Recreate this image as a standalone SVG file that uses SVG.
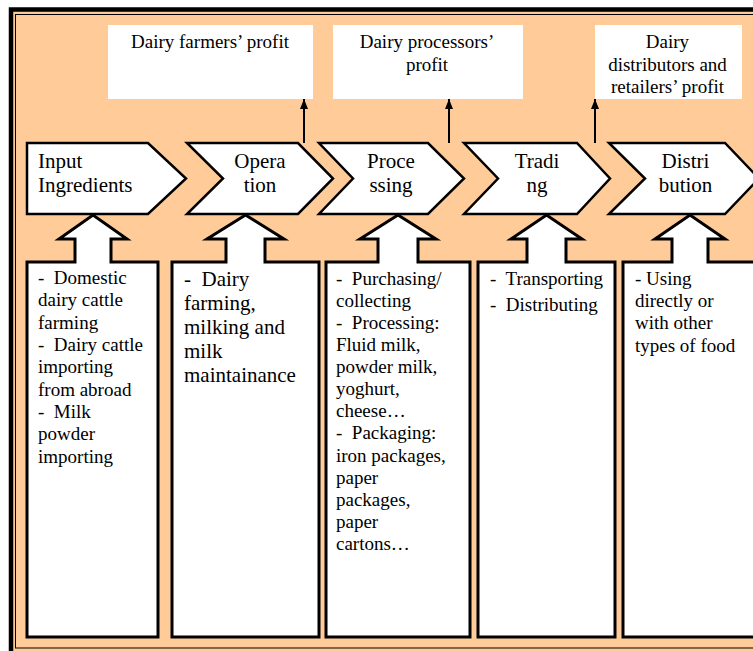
<svg xmlns="http://www.w3.org/2000/svg" width="753" height="651" viewBox="0 0 753 651" font-family="'Liberation Serif', 'Times New Roman', serif">
<defs>
<style>
.chev{fill:#fff;stroke:#000;stroke-width:2.5;stroke-linejoin:miter}
.box{fill:#fff;stroke:#000;stroke-width:3;stroke-linejoin:miter}
text{font-family:'Liberation Serif','Times New Roman',serif;fill:#000}
.c21{font-size:21px}
.b19{font-size:19px}
.mid{text-anchor:middle}
.conn{stroke:#000;stroke-width:2;fill:none}
</style>
<marker id="ah" viewBox="0 0 10 8" refX="10" refY="4" markerWidth="10" markerHeight="8" markerUnits="userSpaceOnUse" orient="auto">
<path d="M0,0 L10,4 L0,8 Z" fill="#000"/>
</marker>
</defs>
<rect x="0" y="0" width="753" height="651" fill="#fff"/>
<rect x="11" y="9.5" width="770" height="660" fill="#FFCC99" stroke="#000" stroke-width="4.5"/>
<rect x="15.5" y="14.5" width="760" height="633.5" fill="none" stroke="#000" stroke-width="1"/>

<g id="profit1">
<rect x="108" y="25" width="205" height="74" fill="#fff"/>
<text class="t b19 mid" x="210" y="48">Dairy farmers’ profit</text>
</g>
<g id="profit2">
<rect x="333" y="25" width="190" height="74" fill="#fff"/>
<text class="t b19 mid" x="427" y="48">Dairy processors’</text>
<text class="t b19 mid" x="427" y="71">profit</text>
</g>
<g id="profit3">
<rect x="595" y="25" width="147" height="74" fill="#fff"/>
<text class="t b19 mid" x="667.5" y="48">Dairy</text>
<text class="t b19 mid" x="667.5" y="71">distributors and</text>
<text class="t b19 mid" x="667.5" y="93">retailers’ profit</text>
</g>

<g id="connectors">
<line class="conn" x1="304" y1="143" x2="304" y2="99" marker-end="url(#ah)"/>
<line class="conn" x1="449" y1="143" x2="449" y2="99" marker-end="url(#ah)"/>
<line class="conn" x1="595" y1="143" x2="595" y2="99" marker-end="url(#ah)"/>
</g>

<g id="input">
<polygon class="chev" points="27,143 148,143 186,178.5 148,214 27,214"/>
<text class="t c21" x="38" y="168">Input</text>
<text class="t c21" x="38" y="192">Ingredients</text>
</g>
<g id="operation">
<polygon class="chev" points="187,143 298,143 333,178.5 298,214 187,214 223,178.5"/>
<text class="t c21 mid" x="260" y="168">Opera</text>
<text class="t c21 mid" x="260" y="192">tion</text>
</g>
<g id="processing">
<polygon class="chev" points="319,143 428,143 464,178.5 428,214 319,214 353,178.5"/>
<text class="t c21 mid" x="391" y="168">Proce</text>
<text class="t c21 mid" x="391" y="192">ssing</text>
</g>
<g id="trading">
<polygon class="chev" points="464,143 577,143 610,178.5 577,214 464,214 498,178.5"/>
<text class="t c21 mid" x="537" y="168">Tradi</text>
<text class="t c21 mid" x="537" y="192">ng</text>
</g>
<g id="distribution">
<polygon class="chev" points="609,143 725,143 759,178.5 725,214 609,214 645,178.5"/>
<text class="t c21 mid" x="685.5" y="168">Distri</text>
<text class="t c21 mid" x="685.5" y="192">bution</text>
</g>

<g id="box1">
<polygon class="box" points="27,262 75,262 75,239 59,239 93,215 127,239 111,239 111,262 158,262 158,637 27,637"/>
<text class="t b19" x="38" y="284" xml:space="preserve">-  Domestic</text>
<text class="t b19" x="38" y="306">dairy cattle</text>
<text class="t b19" x="38" y="329">farming</text>
<text class="t b19" x="38" y="351" xml:space="preserve">-  Dairy cattle</text>
<text class="t b19" x="38" y="373">importing</text>
<text class="t b19" x="38" y="396">from abroad</text>
<text class="t b19" x="38" y="418" xml:space="preserve">-  Milk</text>
<text class="t b19" x="38" y="440">powder</text>
<text class="t b19" x="38" y="463">importing</text>
</g>
<g id="box2">
<polygon class="box" points="172,262 226,262 226,239 207,239 245.5,215 284,239 265,239 265,262 319,262 319,637 172,637"/>
<text class="t c21" x="184" y="286" xml:space="preserve">-  Dairy</text>
<text class="t c21" x="184" y="310">farming,</text>
<text class="t c21" x="184" y="334">milking and</text>
<text class="t c21" x="184" y="358">milk</text>
<text class="t c21" x="184" y="382">maintainance</text>
</g>
<g id="box3">
<polygon class="box" points="326,262 378,262 378,239 360,239 398,215 436,239 418,239 418,262 470,262 470,637 326,637"/>
<text class="t b19" x="336" y="285" xml:space="preserve">-  Purchasing/</text>
<text class="t b19" x="336" y="307">collecting</text>
<text class="t b19" x="336" y="329" xml:space="preserve">-  Processing:</text>
<text class="t b19" x="336" y="351">Fluid milk,</text>
<text class="t b19" x="336" y="373">powder milk,</text>
<text class="t b19" x="336" y="395">yoghurt,</text>
<text class="t b19" x="336" y="417">cheese…</text>
<text class="t b19" x="336" y="439" xml:space="preserve">-  Packaging:</text>
<text class="t b19" x="336" y="462">iron packages,</text>
<text class="t b19" x="336" y="484">paper</text>
<text class="t b19" x="336" y="506">packages,</text>
<text class="t b19" x="336" y="528">paper</text>
<text class="t b19" x="336" y="550">cartons…</text>
</g>
<g id="box4">
<polygon class="box" points="478,262 527,262 527,239 511,239 546.5,215 582,239 566,239 566,262 615,262 615,637 478,637"/>
<text class="t b19" x="490" y="285" xml:space="preserve">-  Transporting</text>
<text class="t b19" x="490" y="311" xml:space="preserve">-  Distributing</text>
</g>
<g id="box5">
<polygon class="box" points="623,262 672,262 672,239 655,239 690,215 725,239 708,239 708,262 790,262 790,637 623,637"/>
<text class="t b19" x="635" y="285">- Using</text>
<text class="t b19" x="635" y="307">directly or</text>
<text class="t b19" x="635" y="329">with other</text>
<text class="t b19" x="635" y="352">types of food</text>
</g>
</svg>
